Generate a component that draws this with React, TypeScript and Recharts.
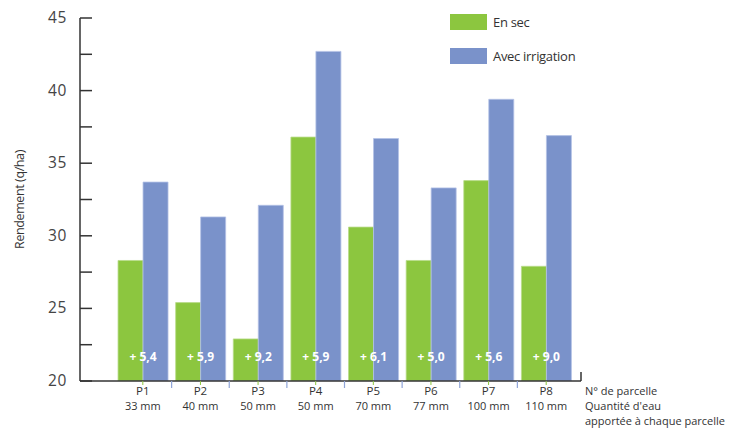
import * as React from "react";
import { Bar, BarChart, LabelList, Legend, XAxis, YAxis } from "recharts";

const parcels = ["P1", "P2", "P3", "P4", "P5", "P6", "P7", "P8"];
const waterMm = ["33 mm", "40 mm", "50 mm", "50 mm", "70 mm", "77 mm", "100 mm", "110 mm"];
const enSec = [28.3, 25.4, 22.9, 36.8, 30.6, 28.3, 33.8, 27.9];
const irrigation = [33.7, 31.3, 32.1, 42.7, 36.7, 33.3, 39.4, 36.9];
const gains = ["+ 5,4", "+ 5,9", "+ 9,2", "+ 5,9", "+ 6,1", "+ 5,0", "+ 5,6", "+ 9,0"];
const seriesNames = ["En sec", "Avec irrigation"];
const yTicks = [20, 22.5, 25, 27.5, 30, 32.5, 35, 37.5, 40, 42.5, 45];

const GREEN = "#8cc63f";
const BLUE = "#7a92ca";
const INK = "#333333";
const FONT = "'Open Sans', sans-serif";

const W = 754;
const H = 428;
const M = { top: 18, right: 173, bottom: 7, left: 0 };
const Y_W = 80;
const PAD = { left: 34, right: 6 };
// width of one category band, used for the little separator ticks
const STEP = (W - M.left - M.right - Y_W - PAD.left - PAD.right) / parcels.length;

const data = parcels.map((p, i) => ({
  parcel: p,
  water: waterMm[i],
  enSec: enSec[i],
  irrigation: irrigation[i],
  gain: gains[i],
}));

function YTick({ x, y, payload }: any) {
  const ax = x + 13; // tickMargin
  return (
    <g>
      <line x1={ax} x2={ax + 12} y1={y} y2={y} stroke={INK} strokeWidth={1.5} />
      {payload.value % 5 === 0 && (
        <text x={x} y={y} dy={5} textAnchor="end" fontSize={15.5} fill="#444" fontFamily={FONT} letterSpacing={0.6}>
          {payload.value}
        </text>
      )}
    </g>
  );
}

function XTick({ x, y, payload, index }: any) {
  const i = index ?? parcels.indexOf(payload.value);
  return (
    <g>
      <line x1={x} x2={x} y1={y} y2={y + 4} stroke={GREEN} strokeWidth={1} />
      {i > 0 && <line x1={x - STEP / 2} x2={x - STEP / 2} y1={y} y2={y + 7} stroke="#8fa4d8" strokeWidth={1.2} />}
      {i === parcels.length - 1 && (
        <line x1={x + STEP / 2 + PAD.right} x2={x + STEP / 2 + PAD.right} y1={y} y2={y - 9} stroke={INK} strokeWidth={1.5} />
      )}
      <text x={x} y={y + 14} textAnchor="middle" fontSize={11.5} fill={INK} fontFamily={FONT}>
        {payload.value}
      </text>
      <text x={x} y={y + 29} textAnchor="middle" fontSize={11} fill={INK} fontFamily={FONT}>
        {waterMm[i]}
      </text>
    </g>
  );
}

function AxisCaption({ viewBox }: any) {
  const x = viewBox.x + viewBox.width + 4;
  const y = viewBox.y;
  return (
    <text fontSize={11} fill={INK} fontFamily={FONT}>
      <tspan x={x} y={y + 14}>N° de parcelle</tspan>
      <tspan x={x} y={y + 29}>Quantité d'eau</tspan>
      <tspan x={x} y={y + 44}>apportée à chaque parcelle</tspan>
    </text>
  );
}

function GainLabel({ x, y, width, height, value }: any) {
  return (
    <text
      x={x + width}
      y={y + height - 20}
      textAnchor="middle"
      fontSize={12}
      fontWeight={700}
      fill="#ffffff"
      fontFamily={FONT}
    >
      {value}
    </text>
  );
}

function LegendBox({ payload }: any) {
  const items = [...(payload || [])].sort(
    (a: any, b: any) => seriesNames.indexOf(a.value) - seriesNames.indexOf(b.value)
  );
  return (
    <div style={{ fontFamily: FONT, fontSize: 13, color: INK }}>
      {items.map((p: any) => (
        <div key={p.value} style={{ display: "flex", alignItems: "center", height: 34 }}>
          <span style={{ width: 37, height: 16, background: p.color, marginRight: 6 }} />
          <span style={{ letterSpacing: -0.3 }}>{p.value}</span>
        </div>
      ))}
    </div>
  );
}

export default function App() {
  return (
    <div style={{ position: "absolute", left: 0, top: 0, background: "#fff" }}>
      <BarChart width={W} height={H} data={data} margin={M} barCategoryGap="7%" barGap={0}>
        <XAxis
          dataKey="parcel"
          height={40}
          padding={PAD}
          tickLine={false}
          tickSize={0}
          tickMargin={0}
          interval={0}
          tick={<XTick />}
          axisLine={{ stroke: INK, strokeWidth: 1.5 }}
          label={<AxisCaption />}
        />
        <YAxis
          width={Y_W}
          domain={[20, 45]}
          ticks={yTicks}
          allowDataOverflow
          interval={0}
          tickLine={false}
          tickSize={0}
          tickMargin={13}
          tick={<YTick />}
          axisLine={{ stroke: INK, strokeWidth: 1.5 }}
          label={{
            value: "Rendement (q/ha)",
            angle: -90,
            position: "insideLeft",
            offset: 20,
            style: { fontFamily: FONT, fontSize: 12.5, fill: INK, textAnchor: "middle", letterSpacing: -0.4 },
          }}
        />
        <Legend
          layout="vertical"
          align="center"
          verticalAlign="middle"
          wrapperStyle={{ left: 450, top: 5, width: 200 }}
          content={<LegendBox />}
        />
        <Bar dataKey="enSec" name={seriesNames[0]} fill={GREEN} stroke="#b9dc8a" strokeWidth={0.8} isAnimationActive={false}>
          <LabelList dataKey="gain" content={<GainLabel />} />
        </Bar>
        <Bar dataKey="irrigation" name={seriesNames[1]} fill={BLUE} stroke="#b4c2e6" strokeWidth={0.8} isAnimationActive={false} />
      </BarChart>
    </div>
  );
}
